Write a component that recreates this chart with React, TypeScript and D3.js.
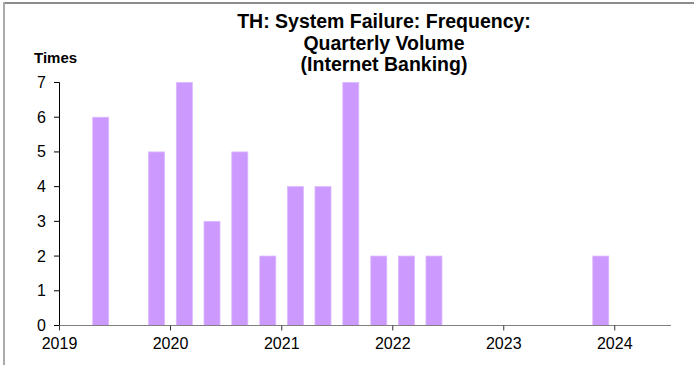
import React from "react";
import * as d3 from "d3";

const quarters = [
  "2019-Q1","2019-Q2","2019-Q3","2019-Q4",
  "2020-Q1","2020-Q2","2020-Q3","2020-Q4",
  "2021-Q1","2021-Q2","2021-Q3","2021-Q4",
  "2022-Q1","2022-Q2","2022-Q3","2022-Q4",
  "2023-Q1","2023-Q2","2023-Q3","2023-Q4",
];
const values = [0,6,0,5, 7,3,5,2, 4,4,7,2, 2,2,0,0, 0,0,0,2];
const yTicks = [0,1,2,3,4,5,6,7];
const xTickYears = [2019,2020,2021,2022,2023,2024];
const titleLines = ["TH: System Failure: Frequency:", "Quarterly Volume", "(Internet Banking)"];
const yLabel = "Times";

const W = 694, H = 365;
const FONT = "'Liberation Sans', Arial, sans-serif";

function qMid(q: string): Date {
  const [y, qq] = q.split("-Q").map(Number);
  const start = new Date(y, (qq - 1) * 3, 1);
  const end = new Date(y, qq * 3, 1);
  return new Date((start.getTime() + end.getTime()) / 2);
}

export default function App() {
  const x = d3.scaleTime()
    .domain([new Date(2019, 0, 1), new Date(2024, 6, 4)])
    .range([59.5, 671]);
  const y = d3.scaleLinear().domain([0, 7]).range([325.5, 82.5]);
  const barW = 16;

  return (
    <svg width={W} height={H} style={{ position: "absolute", left: 0, top: 0, background: "#fff" }}>
      <line x1={3} x2={694} y1={3} y2={3} stroke="#666" strokeWidth={1.5} />
      <line x1={4} x2={4} y1={2} y2={365} stroke="#aaa" strokeWidth={2} />
      {titleLines.map((t, i) => (
        <text key={i} x={384} y={28 + i * 21.5} textAnchor="middle" fontFamily={FONT}
          fontWeight="bold" fontSize={19.5} fill="#000">{t}</text>
      ))}
      <text x={34} y={63} fontFamily={FONT} fontWeight="bold" fontSize={15} fill="#000">{yLabel}</text>
      {quarters.map((q, i) => values[i] > 0 ? (
        <rect key={q} x={x(qMid(q)) - barW / 2} y={y(values[i])} width={barW}
          height={y(0) - y(values[i])} fill="#cc99ff" stroke="#dcb8ff" strokeWidth={0.8} />
      ) : null)}
      <line x1={59.5} x2={59.5} y1={y(7)} y2={y(0)} stroke="#000" strokeWidth={1} />
      {yTicks.map(t => (
        <g key={t}>
          <line x1={54} x2={59.5} y1={y(t)} y2={y(t)} stroke="#000" />
          <text x={46} y={y(t) + 5.5} textAnchor="end" fontFamily={FONT} fontSize={16} fill="#000">{t}</text>
        </g>
      ))}
      <line x1={59.5} x2={671} y1={y(0)} y2={y(0)} stroke="#808080" strokeWidth={1.2} />
      {xTickYears.map(yr => {
        const xx = x(new Date(yr, 0, 1));
        return (
          <g key={yr}>
            <line x1={xx} x2={xx} y1={y(0)} y2={y(0) + 5} stroke="#333" />
            <text x={xx} y={y(0) + 23} textAnchor="middle" fontFamily={FONT} fontSize={16} fill="#000">{yr}</text>
          </g>
        );
      })}
    </svg>
  );
}
